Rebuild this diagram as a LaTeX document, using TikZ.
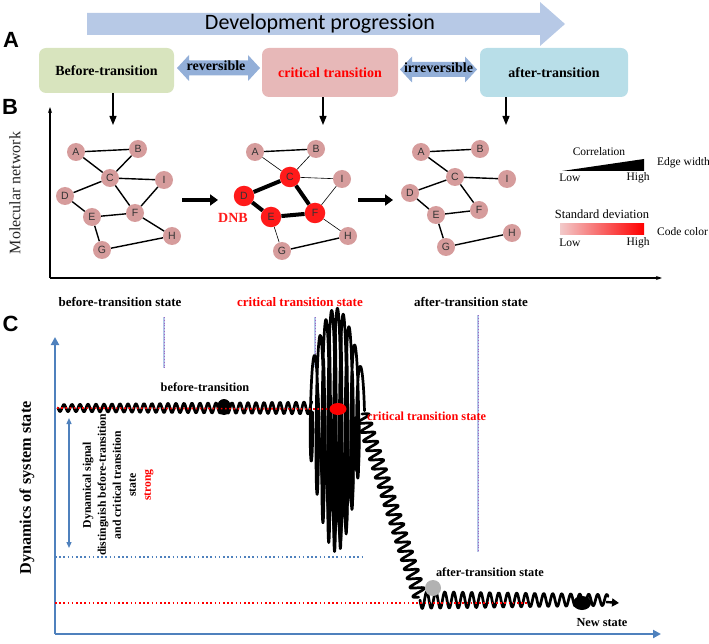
\documentclass[tikz,border=0pt]{standalone}
\usepackage{fontspec}
\setmainfont{Liberation Serif}
\newfontfamily\carlfont{Carlito}
\newfontfamily\arialfont{Liberation Sans}
\usetikzlibrary{arrows.meta,shapes.geometric}
\definecolor{devblue}{HTML}{B7C9E6}
\definecolor{boxgreen}{HTML}{D8E4BE}
\definecolor{boxpink}{HTML}{E7B8B8}
\definecolor{boxcyan}{HTML}{B8DEE8}
\definecolor{dblue}{HTML}{93AFD8}
\definecolor{nodepink}{HTML}{D69C9C}
\definecolor{dnbred}{HTML}{FF1A1A}
\definecolor{axblue}{HTML}{4F81BD}
\definecolor{lblue}{HTML}{B3C6E8}
\definecolor{barpink}{HTML}{F2CACA}
\begin{document}
\begin{tikzpicture}[x=1pt,y=-1pt,
  stagebox/.style={rounded corners=7pt, inner sep=0pt, font=\bfseries\fontsize{14}{16}\selectfont},
  arrtext/.style={font=\bfseries\fontsize{14}{16}\selectfont, inner sep=0pt},
  panellabel/.style={font=\arialfont\bfseries\fontsize{22}{22}\selectfont, inner sep=0pt},
  downarr/.style={line width=1.3pt, -{Triangle[length=9pt,width=7pt]}},
  netarr/.style={line width=3.6pt, -{Triangle[length=8pt,width=11pt]}},
  baxis/.style={line width=1.1pt, -{Stealth[length=6pt,width=4pt]}},
  gnode/.style={circle, fill=nodepink, minimum size=18pt, inner sep=0pt, font=\arialfont\fontsize{10.5}{11}\selectfont, text=black!80},
  dnode/.style={gnode, fill=dnbred, minimum size=20.5pt},
  edge/.style={line width=1.4pt},
  thinedge/.style={line width=0.6pt},
  thickedge/.style={line width=4pt},
  legtext/.style={font=\fontsize{11.5}{12}\selectfont, inner sep=0pt},
  statelab/.style={font=\bfseries\fontsize{13}{14}\selectfont, inner sep=0pt},
  plotlab/.style={font=\bfseries\fontsize{12.3}{14}\selectfont, inner sep=0pt},
  caxis/.style={draw=axblue, line width=2.4pt, -{Triangle[length=8pt,width=8pt]}},
  sig/.style={line width=2.7pt, line join=round, line cap=round},
  reddot/.style={draw=red, line width=1.7pt, dash pattern=on 1.6pt off 2.6pt},
  bluedot/.style={draw=axblue, line width=1.7pt, dash pattern=on 1.6pt off 2.6pt},
  vline/.style={draw=lblue, line width=2.2pt},
  vdots/.style={draw=red!40!blue!60, line width=0.45pt, dash pattern=on 1pt off 1.8pt}
]
\useasboundingbox (0,0) rectangle (709,644);

% ---------- panel A ----------
\fill[devblue] (87,13) -- (540,13) -- (540,2) -- (565,24) -- (540,46) -- (540,35) -- (87,35) -- cycle;
\node[font=\carlfont\fontsize{22}{22}\selectfont, inner sep=0pt] (devtext) at (320,24) {Development progression};
\node[panellabel] (labA) at (11,40) {A};

\node[stagebox, fill=boxgreen, minimum width=135pt, minimum height=45pt] (box1) at (106.5,70.5) {Before-transition};
\node[stagebox, fill=boxpink, minimum width=136pt, minimum height=49pt, text=red] (box2) at (330,72.5) {critical transition};
\node[stagebox, fill=boxcyan, minimum width=148pt, minimum height=49pt] (box3) at (554,72.5) {after-transition};

\foreach \xa/\xb/\yc in {177/260/68, 400/477/69.5}{
  \fill[dblue] (\xa,\yc) -- (\xa+12,\yc-13) -- (\xa+12,\yc-7.5) -- (\xb-12,\yc-7.5) -- (\xb-12,\yc-13)
    -- (\xb,\yc) -- (\xb-12,\yc+13) -- (\xb-12,\yc+7.5) -- (\xa+12,\yc+7.5) -- (\xa+12,\yc+13) -- cycle;
}
\node[arrtext] (revtext) at (216,66) {reversible};
\node[arrtext] (irrtext) at (438.5,68) {irreversible};

% ---------- panel B ----------
\node[panellabel] (labB) at (10,107) {B};
\coordinate (d1) at (113,125);
\coordinate (d2) at (323,125);
\coordinate (d3) at (506,125);
\draw[downarr] (box1.south -| d1) -- (d1);
\draw[downarr] (box2.south -| d2) -- (d2);
\draw[downarr] (box3.south -| d3) -- (d3);

\coordinate (borig) at (50,278);
\coordinate (btop) at (50,107);
\coordinate (bright) at (662,278);
\draw[baxis] (borig) -- (btop);
\draw[baxis] (borig) -- (bright);
\node[rotate=90, font=\fontsize{16}{16}\selectfont, inner sep=0pt, text=black!85] (molnet) at (15,193) {Molecular network};

% network 1
\node[gnode] (a1) at (76,152) {A};
\node[gnode] (b1) at (138,149) {B};
\node[gnode] (c1) at (110,178) {C};
\node[gnode] (i1) at (164,180) {I};
\node[gnode] (dd1) at (65,196) {D};
\node[gnode] (f1) at (135,213) {F};
\node[gnode] (e1) at (92,217) {E};
\node[gnode] (h1) at (172,236) {H};
\node[gnode] (g1) at (102,250) {G};
\draw[edge] (a1)--(b1) (a1)--(c1) (b1)--(c1) (c1)--(i1) (c1)--(dd1) (c1)--(f1)
  (dd1)--(e1) (e1)--(f1) (f1)--(i1) (f1)--(h1) (e1)--(g1) (g1)--(h1);

% network 2
\node[gnode] (a2) at (255,152) {A};
\node[gnode] (b2) at (316,149) {B};
\node[dnode] (c2) at (290,177) {C};
\node[gnode] (i2) at (342,179) {I};
\node[dnode] (dd2) at (244,196) {D};
\node[dnode] (f2) at (315,213) {F};
\node[dnode] (e2) at (271,217) {E};
\node[gnode] (h2) at (348,236) {H};
\node[gnode] (g2) at (282,251) {G};
\draw[edge] (a2)--(b2) (g2)--(h2);
\draw[thinedge] (a2)--(c2) (b2)--(c2) (c2)--(i2) (f2)--(i2) (f2)--(h2) (e2)--(g2);
\draw[thickedge] (c2)--(dd2) (c2)--(f2) (dd2)--(e2) (e2)--(f2);
\node[font=\bfseries\fontsize{14}{14}\selectfont, text=dnbred, inner sep=0pt] (dnb) at (233,218) {DNB};

% network 3
\node[gnode] (a3) at (421,152) {A};
\node[gnode] (b3) at (480,149) {B};
\node[gnode] (c3) at (455,177) {C};
\node[gnode] (i3) at (507,179) {I};
\node[gnode] (dd3) at (410,193) {D};
\node[gnode] (f3) at (479,210) {F};
\node[gnode] (e3) at (436,215) {E};
\node[gnode] (h3) at (512,233) {H};
\node[gnode] (g3) at (446,247) {G};
\draw[edge] (a3)--(b3) (a3)--(c3) (c3)--(i3) (c3)--(dd3) (c3)--(f3)
  (dd3)--(e3) (e3)--(f3) (e3)--(g3) (g3)--(h3);

\coordinate (n1s) at (182,200);
\coordinate (n1e) at (218,200);
\coordinate (n2s) at (358,200);
\coordinate (n2e) at (393,200);
\draw[netarr] (n1s) -- (n1e);
\draw[netarr] (n2s) -- (n2e);

% legend
\node[legtext] (corr) at (599,152) {Correlation};
\fill (562,171) -- (644,171) -- (644,159) -- cycle;
\node[legtext] (low1) at (570,178) {Low};
\node[legtext] (high1) at (638,178) {High};
\node[legtext, anchor=west] (ew) at (657,163) {Edge width};
\node[font=\fontsize{12.5}{13}\selectfont, inner sep=0pt] (sd) at (602,214) {Standard deviation};
\shade[left color=barpink, right color=red] (560,224) rectangle (644,235);
\node[legtext] (low2) at (570,243) {Low};
\node[legtext] (high2) at (638,243) {High};
\node[legtext, anchor=west] (cc) at (657,232) {Code color};

% ---------- panel C ----------
\node[statelab] (s1) at (120,302) {before-transition state};
\node[statelab, text=red] (s2) at (300,302) {critical transition state};
\node[statelab] (s3) at (471,302) {after-transition state};
\node[panellabel] (labC) at (10.5,324) {C};

\foreach \xx/\ya/\yb in {164/317/368, 315/317/367, 478/315/552}{
  \draw[vline] (\xx,\ya) -- (\xx,\yb);
  \draw[vdots] (\xx,\ya) -- (\xx,\yb);
}

\coordinate (corig) at (55,634);
\coordinate (ctop) at (55,337);
\coordinate (cright) at (661,634);
\draw[caxis] (corig) -- (ctop);
\draw[caxis] (corig) -- (cright);
\node[rotate=90, font=\bfseries\fontsize{16.2}{16}\selectfont, inner sep=0pt] (dyn) at (27,488) {Dynamics of system state};

\coordinate (sigtop) at (69,418);
\coordinate (sigbot) at (69,548);
\draw[draw=axblue, line width=1.3pt, {Triangle[length=6pt,width=5pt]}-{Triangle[length=6pt,width=5pt]}] (sigtop) -- (sigbot);
\node[rotate=90, align=center, font=\bfseries\fontsize{11.7}{15}\selectfont, inner sep=0pt] (dyntext) at (118,485)
  {Dynamical signal\\distinguish before-transition\\and critical transition\\state\\\textcolor{red}{strong}};

\coordinate (bl1) at (55,557);
\coordinate (bl2) at (364,557);
\draw[bluedot] (bl1) -- (bl2);
\coordinate (rl1) at (55,603);
\coordinate (rl2) at (527,603);

% signal
\draw[sig] plot[domain=58:312, samples=420] (\x, {408 + (3.5+2.5*(\x-58)/254)*sin((\x-58)*45)});
\fill (224,407) ellipse (7pt and 8pt);
\draw[sig] plot[domain=0:1, samples=500] ({310+52*\x+2.5*sin(\x*360*9+90)}, {412+18*sin(180*\x) + (40+82*sin(180*\x))*sin(\x*360*9)});
\draw[sig] plot[domain=0:1, samples=400] ({318+40*\x+2*cos(\x*360*7+60)}, {430+(30+80*sin(180*\x))*sin(\x*360*7+200)});
\draw[sig] plot[domain=0:1, samples=400] ({362+58*\x+6.5*sin(\x*360*20)}, {414+183*\x-2*sin(\x*360*20)});
\draw[sig] plot[domain=420:608, samples=340] (\x, {600 + (8.5-3*(\x-420)/190)*sin((\x-420)*40)});
\coordinate (tailst) at (606,602);
\coordinate (tailend) at (619,603);
\draw[line width=2.4pt, -{Triangle[length=7pt,width=8pt]}] (tailst) -- (tailend);
\fill (582,603) ellipse (9pt and 7pt);

\node[ellipse, fill=red, minimum width=17pt, minimum height=12pt, inner sep=0pt] (critdot) at (338,409) {};
\coordinate (rt1) at (57,408);
\draw[reddot] (rt1) -- (critdot.west);
\draw[reddot] (rl1) -- (rl2);
\node[circle, fill=black!30, minimum size=16pt, inner sep=0pt] (afterdot) at (433,588) {};

\node[plotlab] (bt) at (205,387) {before-transition};
\node[plotlab, text=red, anchor=west] (ct) at (367,416) {critical transition state};
\node[plotlab] (at) at (490,572) {after-transition state};
\node[plotlab] (ns) at (602,623) {New state};
\end{tikzpicture}
\end{document}
